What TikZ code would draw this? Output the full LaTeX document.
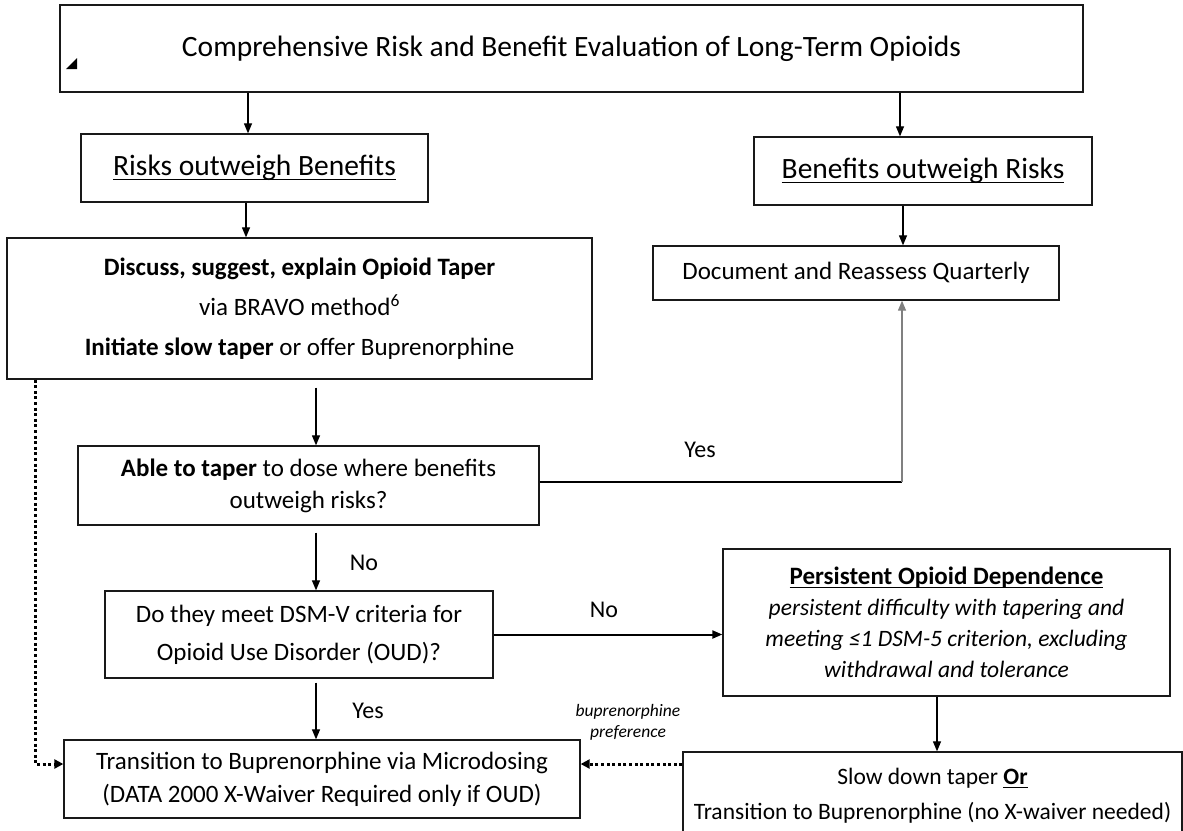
\documentclass[tikz,border=0pt]{standalone}
\usepackage{fontspec}
\setmainfont{Carlito}
\usetikzlibrary{arrows.meta,calc}
\newcommand{\uln}[1]{\setbox0\hbox{#1}\rlap{\rule[-0.15em]{\wd0}{0.045em}}\box0}
\begin{document}
\begin{tikzpicture}[x=1pt,y=-1pt,
 box/.style={draw=black!90,line width=1.3pt,rectangle,inner sep=0pt,align=center},
 arr/.style={line width=1.2pt,-{Triangle[length=10pt,width=8pt]}},
 darr/.style={line width=3pt,dash pattern=on 3pt off 2.6pt,-{Triangle[length=9pt,width=9pt]}},
 lbl/.style={inner sep=0pt,font=\fontsize{24}{28}\selectfont}]
\useasboundingbox (0,0) rectangle (1183,830);
% nodes
\node[box,minimum width=1023pt,minimum height=87pt,font=\fontsize{29.5}{34}\selectfont] (top) at (571.5,48.5) {\raisebox{-3pt}{Comprehensive Risk and Benefit Evaluation of Long-Term Opioids}};
\fill (66,69) -- (77,69) -- (77,58) -- cycle;
\node[box,minimum width=347pt,minimum height=68pt,font=\fontsize{29.5}{34}\selectfont] (risks) at (254.5,168) {\uln{Risks outweigh Benefits}};
\node[box,minimum width=338pt,minimum height=68pt,font=\fontsize{29.5}{34}\selectfont] (benefits) at (923,171) {\uln{Benefits outweigh Risks}};
\node[box,minimum width=585pt,minimum height=141pt,font=\fontsize{25}{40}\selectfont] (discuss) at (299.5,308.5) {\textbf{Discuss, suggest, explain Opioid Taper}\\via BRAVO method\textsuperscript{6}\\\textbf{Initiate slow taper} or offer Buprenorphine};
\node[box,minimum width=406pt,minimum height=54pt,font=\fontsize{25}{30}\selectfont] (document) at (856,273) {Document and Reassess Quarterly};
\node[box,minimum width=461pt,minimum height=79pt,font=\fontsize{25}{32}\selectfont] (able) at (308.5,485.5) {\textbf{Able to taper} to dose where benefits\\outweigh risks?};
\node[box,minimum width=388pt,minimum height=87pt,font=\fontsize{25}{38}\selectfont] (dsm) at (299,634.5) {Do they meet DSM-V criteria for\\Opioid Use Disorder (OUD)?};
\node[box,minimum width=516pt,minimum height=78pt,font=\fontsize{25}{33}\selectfont] (transition) at (322,779) {Transition to Buprenorphine via Microdosing\\(DATA 2000 X-Waiver Required only if OUD)};
\node[box,minimum width=447pt,minimum height=147pt,font=\fontsize{24}{31}\selectfont] (persistent) at (946.5,622.5) {{\fontsize{25}{31}\selectfont\textbf{\uln{Persistent Opioid Dependence}}}\\{\fontsize{23.5}{31}\selectfont\itshape persistent difficulty with tapering and}\\{\fontsize{23.5}{31}\selectfont\itshape meeting ≤1 DSM-5 criterion, excluding}\\{\fontsize{23.5}{31}\selectfont\itshape withdrawal and tolerance}};
\node[box,minimum width=499pt,minimum height=118pt,font=\fontsize{23.5}{35}\selectfont] (slow) at (932.5,811) {Slow down taper \textbf{\uln{Or}}\\Transition to Buprenorphine (no X-waiver needed)\\\mbox{}};
% connectors
\coordinate (sp) at (316,0);
\draw[arr] ([xshift=-6.5pt]risks.north |- top.south) -- ([xshift=-6.5pt]risks.north);
\draw[arr] ([xshift=-8.5pt]risks.south) -- ([xshift=-8.5pt]risks.south |- discuss.north);
\draw[arr] ([xshift=-23pt]benefits.north |- top.south) -- ([xshift=-23pt]benefits.north);
\draw[arr] ([xshift=-20pt]benefits.south) -- ([xshift=-20pt]benefits.south |- document.north);
\draw[arr] ($(sp |- discuss.south)+(0,8)$) -- (sp |- able.north);
\draw[arr] ($(sp |- able.south)+(0,7)$) -- (sp |- dsm.north);
\draw[arr] ($(sp |- dsm.south)+(0,4)$) -- (sp |- transition.north);
\node[lbl] (no1) at (364,563) {No};
\node[lbl] (yes2) at (368,711) {Yes};
\draw[arr,line width=2pt] (dsm.east) -- (dsm.east -| persistent.west);
\node[lbl] (no2) at (604,610) {No};
\coordinate (ycorner) at (902,482);
\draw[line width=1.2pt] (ycorner -| able.east) -- (ycorner);
\draw[arr,draw=gray,fill=gray] (ycorner) -- (ycorner |- document.south);
\node[lbl] (yes1) at (700,450) {Yes};
\coordinate (px) at (937,0);
\draw[arr] (px |- persistent.south) -- (px |- slow.north);
\coordinate (dx) at (35,764);
\draw[darr] (dx |- discuss.south) -- (dx) -- (dx -| transition.west);
\draw[darr] (dx -| slow.west) -- (dx -| transition.east);
\node[font=\itshape\fontsize{17.5}{21}\selectfont,align=center,inner sep=0pt] (pref) at (628,722) {buprenorphine\\preference};
\end{tikzpicture}
\end{document}
